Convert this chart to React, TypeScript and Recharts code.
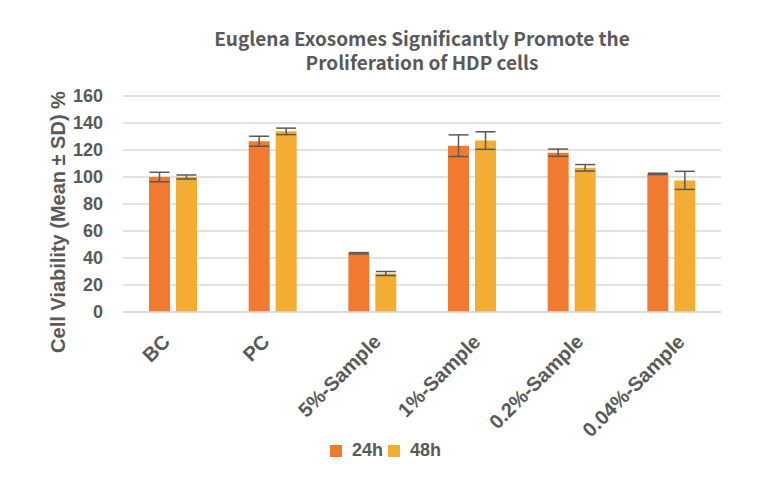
import React from "react";
import { BarChart, Bar, XAxis, YAxis, CartesianGrid, ErrorBar } from "recharts";

const categories = ["BC", "PC", "5%-Sample", "1%-Sample", "0.2%-Sample", "0.04%-Sample"];
const mean24h = [100, 126.5, 43.5, 123.2, 118, 102.3];
const sd24h = [3.5, 3.7, 0.5, 8, 2.7, 0.5];
const mean48h = [100, 133.8, 28.5, 127, 106.8, 97.5];
const sd48h = [1.5, 2.4, 1.5, 6.5, 2.4, 6.7];
const yTicks = [0, 20, 40, 60, 80, 100, 120, 140, 160];
const seriesNames = ["24h", "48h"];
const colors = ["#F07B30", "#F2AD32"];

const data = categories.map((c, i) => ({
  name: c,
  h24: mean24h[i],
  e24: sd24h[i],
  h48: mean48h[i],
  e48: sd48h[i],
}));

const TEXT = "#595959";
const FONT = "'Liberation Sans', Arial, sans-serif";

const XTick = (props: any) => {
  const { x, y, payload } = props;
  const label = String(payload.value);
  const ax = x - 5 + 1.65 * label.length;
  const ay = y + 23;
  return (
    <text
      x={ax}
      y={ay}
      transform={`rotate(-45 ${ax} ${ay})`}
      textAnchor="end"
      fill={TEXT}
      fontSize={20}
      fontWeight="bold"
      fontFamily={FONT}
    >
      {label}
    </text>
  );
};

export default function App() {
  return (
    <div style={{ position: "absolute", left: 0, top: 0, width: 771, height: 491, background: "#fff" }}>
      <div
        style={{
          position: "absolute",
          left: 122,
          width: 600,
          top: 26,
          textAlign: "center",
          fontFamily: "'Noto Sans CJK SC', 'Noto Sans', sans-serif",
          fontWeight: 700,
          fontSize: 19,
          lineHeight: "24px",
          color: TEXT,
          zIndex: 2,
        }}
      >
        Euglena Exosomes Significantly Promote the
        <br />
        Proliferation of HDP cells
      </div>
      <div
        style={{
          position: "absolute",
          left: 58,
          top: 222,
          transform: "translate(-50%, -50%) rotate(-90deg)",
          whiteSpace: "nowrap",
          fontFamily: FONT,
          fontWeight: "bold",
          fontSize: 20,
          color: TEXT,
          zIndex: 2,
        }}
      >
        Cell Viability (Mean ± SD) %
      </div>
      <div
        style={{
          position: "absolute",
          left: 0,
          width: 771,
          top: 440,
          display: "flex",
          justifyContent: "center",
          alignItems: "center",
          fontFamily: FONT,
          zIndex: 2,
        }}
      >
        {seriesNames.map((n, i) => (
          <div key={n} style={{ display: "flex", alignItems: "center", marginRight: i === 0 ? 5 : 0 }}>
            <span style={{ display: "inline-block", width: 12, height: 12, background: colors[i], marginRight: 10 }} />
            <span style={{ fontSize: 18, fontWeight: "bold", color: TEXT }}>{n}</span>
          </div>
        ))}
      </div>
      <BarChart
        width={771}
        height={491}
        data={data}
        margin={{ top: 96, right: 50, left: 0, bottom: 0 }}
        barSize={21}
        barGap={6}
      >
        <CartesianGrid vertical={false} stroke="#D9D9D9" strokeWidth={1.5} />
        <XAxis
          dataKey="name"
          interval={0}
          tick={<XTick />}
          tickLine={false}
          axisLine={{ stroke: "#D9D9D9", strokeWidth: 1.5 }}
          height={179}
        />
        <YAxis
          width={123}
          domain={[0, 160]}
          ticks={yTicks}
          interval={0}
          axisLine={false}
          tickLine={false}
          tickMargin={14}
          tick={{ fill: TEXT, fontSize: 18, fontWeight: "bold", fontFamily: FONT }}
        />
        <Bar dataKey="h24" name="24h" fill={colors[0]} isAnimationActive={false}>
          <ErrorBar dataKey="e24" width={10} stroke="#595959" strokeWidth={1.5} />
        </Bar>
        <Bar dataKey="h48" name="48h" fill={colors[1]} isAnimationActive={false}>
          <ErrorBar dataKey="e48" width={10} stroke="#595959" strokeWidth={1.5} />
        </Bar>
      </BarChart>
    </div>
  );
}
